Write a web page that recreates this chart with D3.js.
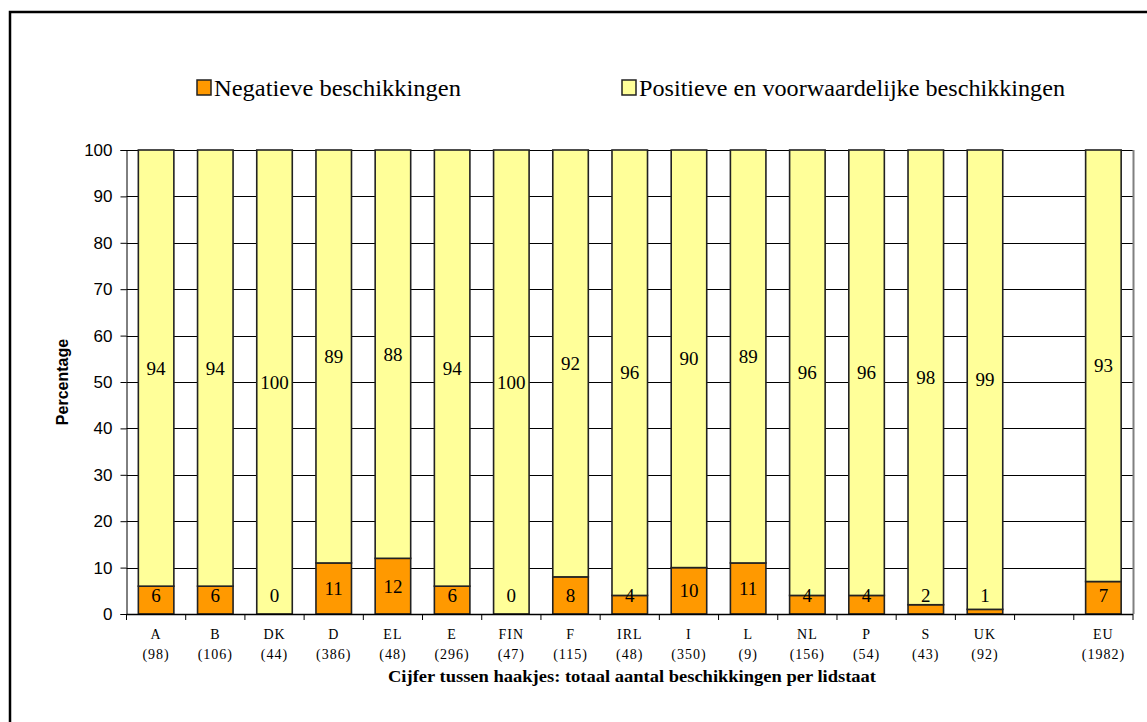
<!DOCTYPE html>
<html>
<head>
<meta charset="utf-8">
<script src="https://cdn.jsdelivr.net/npm/d3@7"></script>
<style>
  body { margin: 0; background: #fff; }
  svg { display: block; }
</style>
</head>
<body>
<div id="chart"></div>
<script>
// lidstaten, leeg vak tussen UK en EU
const countries = ["A", "B", "DK", "D", "EL", "E", "FIN", "F", "IRL", "I", "L", "NL", "P", "S", "UK", "", "EU"];
const totals = ["98", "106", "44", "386", "48", "296", "47", "115", "48", "350", "9", "156", "54", "43", "92", "", "1982"];
const negatief = [6, 6, 0, 11, 12, 6, 0, 8, 4, 10, 11, 4, 4, 2, 1, null, 7];
const positief = [94, 94, 100, 89, 88, 94, 100, 92, 96, 90, 89, 96, 96, 98, 99, null, 93];
const yTicks = [0, 10, 20, 30, 40, 50, 60, 70, 80, 90, 100];
const seriesNames = ["Negatieve beschikkingen", "Positieve en voorwaardelijke beschikkingen"];
const colors = ["#FF9900", "#FFFF99"];

const W = 1147, H = 722;
const margin = {top: 150, right: 14, bottom: 108, left: 126.5};
const width = 1133 - margin.left, height = 614 - margin.top;

const svg = d3.select("#chart").append("svg")
    .attr("width", W).attr("height", H);

// buitenkader
svg.append("path")
    .attr("d", `M10,${H + 5} L10,12 L${W + 5},12`)
    .attr("fill", "none").attr("stroke", "#000").attr("stroke-width", 2.5);

const g = svg.append("g")
    .attr("transform", `translate(${margin.left},${margin.top})`);

const x = d3.scaleBand().domain(d3.range(countries.length)).range([0, width]).paddingInner(0.4).paddingOuter(0.2);
const y = d3.scaleLinear().domain([0, 100]).range([height, 0]);

// rasterlijnen
g.selectAll(".grid").data(yTicks.filter(d => d > 0)).enter().append("line")
    .attr("x1", 0).attr("x2", width)
    .attr("y1", d => Math.round(y(d)) + 0.5).attr("y2", d => Math.round(y(d)) + 0.5)
    .attr("stroke", "#000").attr("stroke-width", 1);

g.append("line")
    .attr("x1", width + 0.5).attr("x2", width + 0.5)
    .attr("y1", y(100)).attr("y2", y(0))
    .attr("stroke", "#808080").attr("stroke-width", 2);

// y-as
const yAxis = g.append("g")
    .call(d3.axisLeft(y).tickValues(yTicks).tickSize(6).tickPadding(8));
yAxis.select(".domain").attr("stroke", "#000");
yAxis.selectAll("text").style("font-family", "'Liberation Sans', Arial, sans-serif").style("font-size", "17px").attr("fill", "#000");

svg.append("text")
    .attr("transform", `translate(68,${margin.top + height / 2}) rotate(-90)`)
    .attr("text-anchor", "middle")
    .style("font-family", "'Liberation Sans', Arial, sans-serif")
    .style("font-size", "16px").style("font-weight", "bold")
    .text("Percentage");

// gestapelde staven
const rows = countries.map((c, i) => ({i, neg: negatief[i], pos: positief[i]})).filter(d => d.neg !== null);

g.selectAll(".neg").data(rows).enter().append("rect")
    .attr("x", d => x(d.i)).attr("width", x.bandwidth())
    .attr("y", d => y(d.neg)).attr("height", d => y(0) - y(d.neg))
    .attr("fill", colors[0]).attr("stroke", "#222").attr("stroke-width", 1.6);

g.selectAll(".pos").data(rows).enter().append("rect")
    .attr("x", d => x(d.i)).attr("width", x.bandwidth())
    .attr("y", d => y(d.neg + d.pos)).attr("height", d => y(d.neg) - y(d.neg + d.pos))
    .attr("fill", colors[1]).attr("stroke", "#222").attr("stroke-width", 1.6);

const labelFont = "'Liberation Serif', 'Times New Roman', serif";

g.selectAll(".negLab").data(rows).enter().append("text")
    .attr("x", d => x(d.i) + x.bandwidth() / 2)
    .attr("y", d => Math.min(y(d.neg / 2), y(0) - 19))
    .attr("dy", "0.35em").attr("text-anchor", "middle")
    .style("font-family", labelFont).style("font-size", "19px")
    .text(d => d.neg);

g.selectAll(".posLab").data(rows).enter().append("text")
    .attr("x", d => x(d.i) + x.bandwidth() / 2)
    .attr("y", d => y(d.neg + d.pos / 2))
    .attr("dy", "0.35em").attr("text-anchor", "middle")
    .style("font-family", labelFont).style("font-size", "19px")
    .text(d => d.pos);

// x-as
const xEdges = d3.range(countries.length + 1).map(i => i * width / countries.length);
g.append("line").attr("x1", 0).attr("x2", width)
    .attr("y1", height + 0.5).attr("y2", height + 0.5)
    .attr("stroke", "#000").attr("stroke-width", 1.5);
g.selectAll(".xtick").data(xEdges).enter().append("line")
    .attr("x1", d => d).attr("x2", d => d)
    .attr("y1", height).attr("y2", height + 6)
    .attr("stroke", "#000");

const xl = g.selectAll(".xlab").data(countries).enter().append("text")
    .attr("x", (d, i) => x(i) + x.bandwidth() / 2)
    .attr("text-anchor", "middle")
    .style("font-family", labelFont).style("font-size", "14px")
    .style("letter-spacing", "1px");
xl.append("tspan").attr("x", (d, i) => x(i) + x.bandwidth() / 2).attr("y", height + 25).text(d => d);
xl.append("tspan").attr("x", (d, i) => x(i) + x.bandwidth() / 2).attr("y", height + 45)
    .text((d, i) => totals[i] ? `(${totals[i]})` : "");

svg.append("text")
    .attr("x", 388).attr("y", 682)
    .attr("textLength", 488).attr("lengthAdjust", "spacingAndGlyphs")
    .style("font-family", labelFont).style("font-size", "17px").style("font-weight", "bold")
    .text("Cijfer tussen haakjes: totaal aantal beschikkingen per lidstaat");

// legenda
const legendX = [197, 622];
const legendLen = [247, 426];
const leg = svg.selectAll(".leg").data(seriesNames).enter().append("g")
    .attr("transform", (d, i) => `translate(${legendX[i]},80)`);
leg.append("rect").attr("width", 14).attr("height", 15)
    .attr("fill", (d, i) => colors[i]).attr("stroke", "#222").attr("stroke-width", 1.5);
leg.append("text").attr("x", 17).attr("y", 16)
    .attr("textLength", (d, i) => legendLen[i]).attr("lengthAdjust", "spacingAndGlyphs")
    .style("font-family", labelFont).style("font-size", "23px")
    .text(d => d);
</script>
</body>
</html>
